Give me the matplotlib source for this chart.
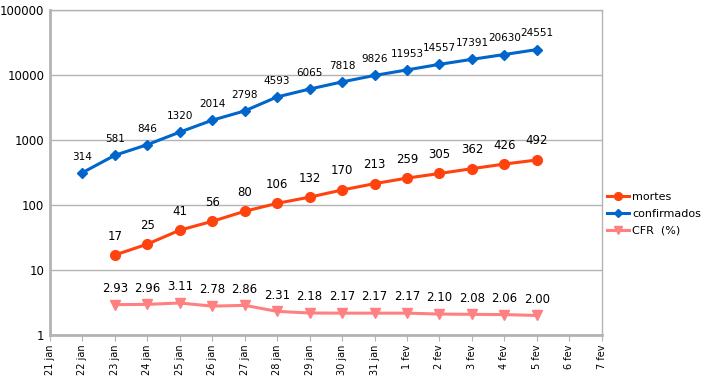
import matplotlib.pyplot as plt
import numpy as np

days = ["21 jan", "22 jan", "23 jan", "24 jan", "25 jan", "26 jan", "27 jan",
        "28 jan", "29 jan", "30 jan", "31 jan", "1 fev", "2 fev", "3 fev",
        "4 fev", "5 fev", "6 fev", "7 fev"]

# confirmados: 22 jan .. 5 fev
confirmados = [314, 581, 846, 1320, 2014, 2798, 4593, 6065, 7818, 9826,
               11953, 14557, 17391, 20630, 24551]
# mortes: 23 jan .. 5 fev
mortes = [17, 25, 41, 56, 80, 106, 132, 170, 213, 259, 305, 362, 426, 492]
# CFR (%): 23 jan .. 5 fev
cfr = [2.93, 2.96, 3.11, 2.78, 2.86, 2.31, 2.18, 2.17, 2.17, 2.17,
       2.10, 2.08, 2.06, 2.00]

x_conf = np.arange(1, 1 + len(confirmados))
x_mort = np.arange(2, 2 + len(mortes))
x_cfr = np.arange(2, 2 + len(cfr))

fig = plt.figure(figsize=(7.13, 3.82), dpi=100)
ax = fig.add_axes([0.070, 0.123, 0.774, 0.851])

grid_c = "#b3b3b3"
ax.set_yscale("log")
ax.set_ylim(1, 100000)
ax.set_xlim(0, len(days) - 1)
ax.yaxis.grid(True, color=grid_c, linewidth=1)
ax.set_axisbelow(True)

l_m, = ax.plot(x_mort, mortes, color="#ff420e", linewidth=2.2, marker="o",
               markersize=7, label="mortes")
l_c, = ax.plot(x_conf, confirmados, color="#0066cc", linewidth=2.2, marker="D",
               markersize=5.5, label="confirmados")
l_f, = ax.plot(x_cfr, cfr, color="#ff8080", linewidth=2.2, marker="v",
               markersize=7.5, label="CFR  (%)")

for x, v in zip(x_conf, confirmados):
    ax.annotate(str(v), (x, v), xytext=(0, 8), textcoords="offset points",
                ha="center", va="bottom", fontsize=7.5)
for x, v in zip(x_mort, mortes):
    ax.annotate(str(v), (x, v), xytext=(0, 9), textcoords="offset points",
                ha="center", va="bottom", fontsize=8.5)
for x, v in zip(x_cfr, cfr):
    ax.annotate(f"{v:.2f}", (x, v), xytext=(0, 7), textcoords="offset points",
                ha="center", va="bottom", fontsize=8.5)

ax.set_yticks([1, 10, 100, 1000, 10000, 100000])
ax.set_yticklabels(["1", "10", "100", "1000", "10000", "100000"])
ax.yaxis.set_minor_locator(plt.NullLocator())
ax.tick_params(axis="y", length=0, labelsize=8.5, pad=4)

ax.set_xticks(np.arange(len(days)))
ax.set_xticklabels(days, rotation=90, fontsize=7)
ax.tick_params(axis="x", length=4, color=grid_c, pad=3)

for side in ["top", "right"]:
    ax.spines[side].set_color(grid_c)
    ax.spines[side].set_linewidth(1)
for side in ["left", "bottom"]:
    ax.spines[side].set_color(grid_c)
    ax.spines[side].set_linewidth(2)

fig.legend(handles=[l_m, l_c, l_f], loc="center left",
           bbox_to_anchor=(0.852, 0.44), frameon=False, fontsize=8,
           handlelength=1.9, handletextpad=0.3, labelspacing=0.6,
           borderaxespad=0, borderpad=0, markerscale=0.8)

fig.savefig("out.png", dpi=100)
